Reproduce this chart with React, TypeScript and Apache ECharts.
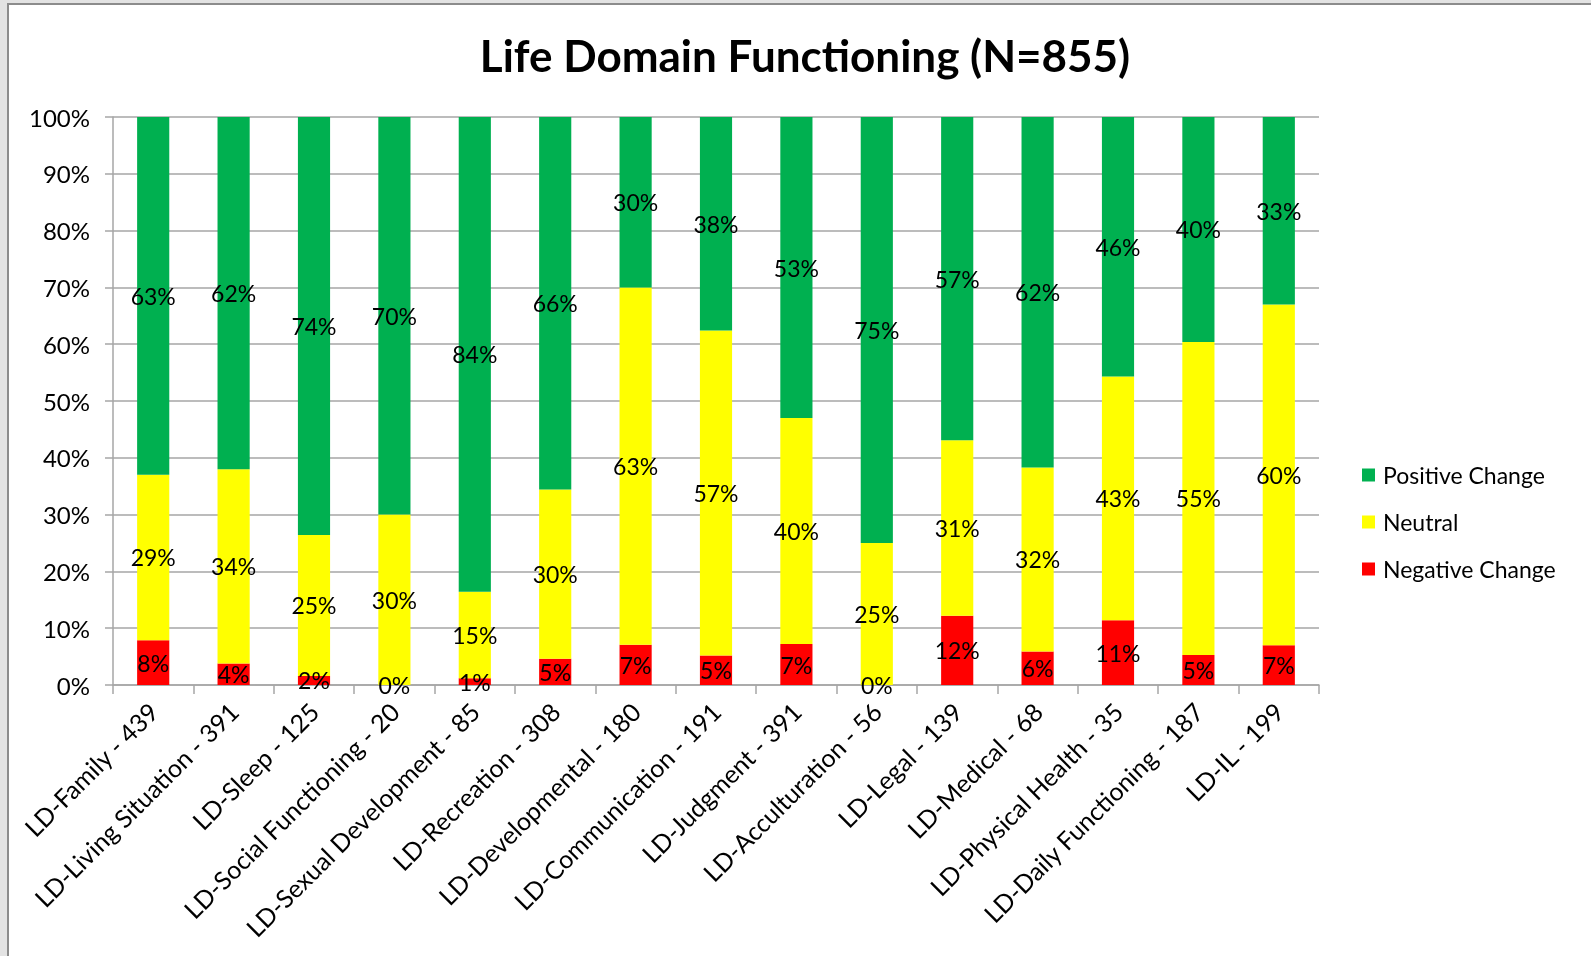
import React, { useEffect, useRef } from "react";
import * as echarts from "echarts";

const categories = [
  "LD-Family - 439",
  "LD-Living Situation - 391",
  "LD-Sleep - 125",
  "LD-Social Functioning - 20",
  "LD-Sexual Development - 85",
  "LD-Recreation - 308",
  "LD-Developmental - 180",
  "LD-Communication - 191",
  "LD-Judgment - 391",
  "LD-Acculturation - 56",
  "LD-Legal - 139",
  "LD-Medical - 68",
  "LD-Physical Health - 35",
  "LD-Daily Functioning - 187",
  "LD-IL - 199",
];

const negativeChange = [7.9, 3.8, 1.6, 0, 1.2, 4.6, 7.1, 5.2, 7.2, 0, 12.2, 5.9, 11.4, 5.3, 7.0];
const neutral = [29.1, 34.2, 24.8, 30.0, 15.2, 29.8, 62.9, 57.2, 39.8, 25.0, 30.9, 32.4, 42.9, 55.1, 60.0];
const positiveChange = [63.0, 62.0, 73.6, 70.0, 83.6, 65.6, 30.0, 37.6, 53.0, 75.0, 56.9, 61.7, 45.7, 39.6, 33.0];

const yTicks = [0, 10, 20, 30, 40, 50, 60, 70, 80, 90, 100];

const FONT = "Lato, 'Open Sans', sans-serif";

export default function App() {
  const ref = useRef<HTMLDivElement>(null);

  useEffect(() => {
    if (!ref.current) return;
    const chart = echarts.init(ref.current, undefined, { renderer: "svg" });

    const label = {
      show: true,
      position: "inside",
      color: "#000",
      fontFamily: FONT,
      fontSize: 23,
      textBorderWidth: 0,
      formatter: (p: any) => `${Math.round(p.value)}%`,
    };

    chart.setOption({
      animation: false,
      backgroundColor: "transparent",
      graphic: [
        {
          type: "rect",
          z: -100,
          silent: true,
          shape: { x: 0, y: 0, width: 1591, height: 956 },
          style: { fill: "#e3e3e3" },
        },
        {
          type: "rect",
          z: -99,
          silent: true,
          shape: { x: 8, y: 4, width: 1600, height: 1000 },
          style: { fill: "#ffffff", stroke: "#8c8c8c", lineWidth: 2 },
        },
      ],
      title: {
        text: "Life Domain Functioning (N=855)",
        left: 800,
        textAlign: "center",
        top: 23,
        textStyle: {
          fontFamily: FONT,
          fontWeight: "bold",
          fontSize: 44,
          lineHeight: 54,
          color: "#000",
        },
      },
      legend: {
        orient: "vertical",
        left: 1357,
        top: 458,
        itemWidth: 13,
        itemHeight: 13,
        itemGap: 23,
        icon: "rect",
        data: ["Positive Change", "Neutral", "Negative Change"],
        textStyle: {
          fontFamily: FONT,
          fontSize: 23,
          lineHeight: 24,
          color: "#000",
          padding: [0, 0, 0, 3],
        },
      },
      grid: {
        left: 113,
        right: 272,
        top: 117,
        bottom: 271,
        containLabel: false,
      },
      xAxis: {
        type: "category",
        data: categories,
        axisLine: { show: true, lineStyle: { color: "#a6a6a6", width: 1.5 } },
        axisTick: { show: true, length: 9, lineStyle: { color: "#a6a6a6", width: 1.5 } },
        axisLabel: {
          interval: 0,
          rotate: 45,
          margin: 22,
          fontFamily: FONT,
          fontSize: 25,
          color: "#000",
        },
      },
      yAxis: {
        type: "value",
        min: 0,
        max: 100,
        interval: 10,
        axisLine: { show: true, lineStyle: { color: "#a6a6a6", width: 1.5 } },
        axisTick: { show: true, length: 8, lineStyle: { color: "#a6a6a6", width: 1.5 } },
        splitLine: { show: true, lineStyle: { color: "#a6a6a6", width: 1.5 } },
        axisLabel: {
          margin: 23,
          fontFamily: FONT,
          fontSize: 24,
          color: "#000",
          formatter: (v: number) => (yTicks.includes(v) ? `${v}%` : ""),
        },
      },
      series: [
        {
          name: "Negative Change",
          type: "bar",
          stack: "total",
          barWidth: "40%",
          data: negativeChange,
          itemStyle: { color: "#ff0000" },
          label,
        },
        {
          name: "Neutral",
          type: "bar",
          stack: "total",
          barWidth: "40%",
          data: neutral,
          itemStyle: { color: "#ffff00" },
          label,
        },
        {
          name: "Positive Change",
          type: "bar",
          stack: "total",
          barWidth: "40%",
          data: positiveChange,
          itemStyle: { color: "#00b050" },
          label,
        },
      ],
    });

    return () => chart.dispose();
  }, []);

  return (
    <div
      ref={ref}
      style={{ position: "fixed", left: 0, top: 0, width: 1591, height: 956 }}
    />
  );
}
